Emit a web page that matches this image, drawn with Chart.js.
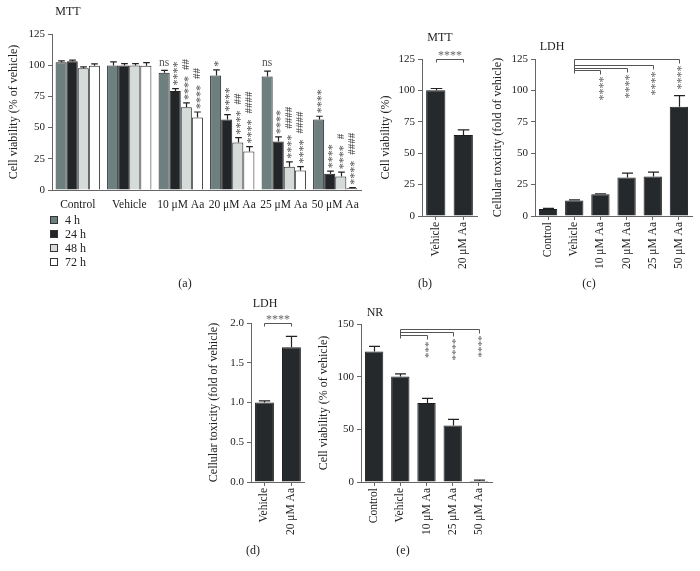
<!DOCTYPE html>
<html>
<head>
<meta charset="utf-8">
<script src="https://cdn.jsdelivr.net/npm/chart.js@4.4.1/dist/chart.umd.min.js"></script>
<style>
  html, body { margin: 0; padding: 0; background: #fff; width: 700px; height: 571px; overflow: hidden; position: relative;
    font-family: 'Liberation Serif', 'DejaVu Serif', serif; color: #222; }
  canvas { position: absolute; }
  .t { position: absolute; font-size: 12px; transform: translate(-50%, -50%); white-space: nowrap; }
  .leg { position: absolute; left: 50px; top: 213px; font-size: 12px; }
  .leg div { display: flex; align-items: center; height: 14px; }
  .leg span { display: inline-block; width: 6px; height: 6px; border: 1px solid #333; margin-right: 7px; }
</style>
</head>
<body>
<canvas id="cA" width="370" height="212" style="left:0;top:0"></canvas>
<canvas id="cB" width="108" height="285" style="left:372px;top:0"></canvas>
<canvas id="cC" width="208" height="285" style="left:487px;top:0"></canvas>
<canvas id="cD" width="108" height="280" style="left:200px;top:290px"></canvas>
<canvas id="cE" width="183" height="280" style="left:312px;top:290px"></canvas>

<div class="t" style="left:68px;top:11px">MTT</div>
<div class="t" style="left:440px;top:37px">MTT</div>
<div class="t" style="left:552px;top:46px">LDH</div>
<div class="t" style="left:265px;top:303px">LDH</div>
<div class="t" style="left:375px;top:312px">NR</div>

<div class="t" style="left:185px;top:283px">(a)</div>
<div class="t" style="left:425px;top:283px">(b)</div>
<div class="t" style="left:589px;top:283px">(c)</div>
<div class="t" style="left:253px;top:550px">(d)</div>
<div class="t" style="left:403px;top:550px">(e)</div>

<div class="leg" id="legA"></div>

<script>
// ---- panel (a) MTT time course ----
const groupLabels = ['Control', 'Vehicle', '10 μM Aa', '20 μM Aa', '25 μM Aa', '50 μM Aa'];
const timeLabels = ['4 h', '24 h', '48 h', '72 h'];
const timeColors = ['#6e7f7f', '#222628', '#d5dbd9', '#ffffff'];
const mtt4h = [102.4, 99.7, 93.9, 91.8, 91, 56.4];
const mtt24h = [103.2, 99.8, 79.3, 56.4, 38.8, 13];
const mtt48h = [97.6, 99.8, 66.3, 38, 18.6, 10.8];
const mtt72h = [99.6, 99.6, 58, 30.8, 15.6, 1.4];
const err4h = [1, 3, 2, 4.5, 4.2, 2.7];
const err24h = [0.8, 1.5, 2, 4, 3.7, 2.1];
const err48h = [1, 1.5, 3.5, 4, 4, 3.5];
const err72h = [1.5, 2.5, 4.5, 4, 3.2, 0.5];
const stars4h = ['', '', 'ns', '*', 'ns', '****'];
const stars24h = ['', '', '****', '****', '****', '****'];
const stars48h = ['', '', '****', '****', '****', '****'];
const stars72h = ['', '', '****', '****', '****', '****'];
const hash48h = ['', '', '##', '##', '####', '#'];
const hash72h = ['', '', '##', '####', '####', '####'];

// ---- panel (b) MTT 20 µM ----
const bLabels = ['Vehicle', '20 μM Aa'];
const bValues = [100.2, 64.5];
const bErrors = [1.3, 4];

// ---- panel (c) LDH dose ----
const cLabels = ['Control', 'Vehicle', '10 μM Aa', '20 μM Aa', '25 μM Aa', '50 μM Aa'];
const cValues = [5.6, 12.3, 17.3, 30.6, 31.4, 87];
const cErrors = [0.5, 0.6, 0.4, 3.5, 3.5, 8.8];
const cSigTargets = [2, 3, 4, 5];
const cSigLevels = [116.2, 118.1, 120.2, 124.8];
const cSigText = ['****', '****', '****', '****'];

// ---- panel (d) LDH 20 µM ----
const dLabels = ['Vehicle', '20 μM Aa'];
const dValues = [1.0, 1.695];
const dErrors = [0.02, 0.136];

// ---- panel (e) NR ----
const eLabels = ['Control', 'Vehicle', '10 μM Aa', '25 μM Aa', '50 μM Aa'];
const eValues = [123.9, 100.1, 75, 53.7, 1];
const eErrors = [4.8, 2.5, 4.4, 5.7, 0.8];
const eSigTargets = [2, 3, 4];
const eSigLevels = [139.6, 142.2, 145];
const eSigText = ['***', '****', '****'];

const INK = '#222';
const AX = '#666';
const SERIF = "'Liberation Serif', 'DejaVu Serif', serif";
Chart.defaults.font.family = SERIF;
Chart.defaults.color = INK;
Chart.defaults.animation = false;

document.getElementById('legA').innerHTML = timeLabels.map((t, i) =>
  `<div><span style="background:${timeColors[i]}"></span>${t}</div>`).join('');

function yAxis(w, max, step, title, pad, fmt) {
  return {
    min: 0, max,
    ticks: { stepSize: step, padding: 3, font: { size: 11 }, callback: fmt || (v => v) },
    grid: { drawOnChartArea: false, drawTicks: true, tickLength: 4, color: AX },
    border: { color: AX },
    title: { display: true, text: title, font: { size: 12 }, padding: { top: pad, bottom: 0 } },
    afterFit: s => { s.width = w; },
  };
}
function xAxis(h, rot, ticksOn) {
  return {
    offset: true,
    ticks: { font: { size: 11.5 }, minRotation: rot, maxRotation: rot, autoSkip: false, padding: ticksOn ? 2 : 4 },
    grid: { display: ticksOn, offset: false, drawOnChartArea: false, drawTicks: true, tickLength: 4, color: AX },
    border: { color: AX },
    afterFit: s => { s.height = h; },
  };
}

// error bars: upward only, with a cap
const errBars = {
  id: 'errBars',
  afterDatasetsDraw(chart) {
    const ctx = chart.ctx, y = chart.scales.y;
    chart.data.datasets.forEach((ds, di) => {
      chart.getDatasetMeta(di).data.forEach((bar, i) => {
        const top = y.getPixelForValue(ds.data[i] + ds.errors[i]);
        const cap = bar.width * 0.3;
        const x = Math.round(bar.x) + 0.5;
        ctx.save();
        ctx.strokeStyle = INK; ctx.lineWidth = 1.2;
        ctx.beginPath();
        ctx.moveTo(x, bar.y); ctx.lineTo(x, top);
        ctx.moveTo(x - cap, top); ctx.lineTo(x + cap, top);
        ctx.stroke();
        ctx.restore();
      });
    });
  },
};

// (a) stars / hashes above each bar
const markA = {
  id: 'markA',
  afterDatasetsDraw(chart) {
    const ctx = chart.ctx, y = chart.scales.y;
    chart.data.datasets.forEach((ds, di) => {
      chart.getDatasetMeta(di).data.forEach((bar, i) => {
        const st = ds.stars[i], hs = ds.hashes ? ds.hashes[i] : '';
        if (!st && !hs) return;
        const top = y.getPixelForValue(ds.data[i] + ds.errors[i]) - 3;
        ctx.save();
        ctx.fillStyle = '#555';
        if (st === 'ns') {
          ctx.font = '11.5px ' + SERIF;
          ctx.textAlign = 'center'; ctx.textBaseline = 'bottom';
          ctx.fillText('ns', bar.x, top + 1);
        } else {
          ctx.font = '12px ' + SERIF;
          ctx.translate(bar.x, top);
          ctx.rotate(-Math.PI / 2);
          ctx.textAlign = 'left'; ctx.textBaseline = 'middle';
          ctx.fillText(st, 0, 3);
          if (hs) {
            ctx.fillStyle = '#333';
            ctx.font = '11px ' + SERIF;
            ctx.fillText(hs, ctx.measureText(st).width + 8, 0);
          }
        }
        ctx.restore();
      });
    });
  },
};

// vehicle-vs-dose brackets (c, e)
function fanBracket(ref, targets, levels, texts, fs) {
  return {
    id: 'fan',
    afterDatasetsDraw(chart) {
      const ctx = chart.ctx, x = chart.scales.x, y = chart.scales.y;
      const x0 = Math.round(x.getPixelForValue(ref)) + 0.5;
      const ys = levels.map(v => Math.round(y.getPixelForValue(v)) + 0.5);
      ctx.save();
      ctx.strokeStyle = '#555'; ctx.lineWidth = 1;
      ctx.beginPath();
      ctx.moveTo(x0, Math.min(...ys)); ctx.lineTo(x0, Math.max(...ys) + 3);
      targets.forEach((t, k) => {
        const xt = Math.round(x.getPixelForValue(t)) + 0.5;
        ctx.moveTo(x0, ys[k]); ctx.lineTo(xt, ys[k]); ctx.lineTo(xt, ys[k] + 4);
      });
      ctx.stroke();
      ctx.fillStyle = '#666';
      ctx.font = fs + 'px ' + SERIF;
      targets.forEach((t, k) => {
        const xt = x.getPixelForValue(t);
        ctx.save();
        ctx.translate(xt, ys[k] + 6);
        ctx.rotate(-Math.PI / 2);
        ctx.textAlign = 'right'; ctx.textBaseline = 'middle';
        ctx.fillText(texts[k], 0, 3);
        ctx.restore();
      });
      ctx.restore();
    },
  };
}

// two-bar bracket (b, d)
function pairBracket(level, text) {
  return {
    id: 'pair',
    afterDatasetsDraw(chart) {
      const ctx = chart.ctx, x = chart.scales.x, y = chart.scales.y;
      const x1 = Math.round(x.getPixelForValue(0)) + 0.5, x2 = Math.round(x.getPixelForValue(1)) + 0.5;
      const yy = Math.round(y.getPixelForValue(level)) + 0.5;
      ctx.save();
      ctx.strokeStyle = '#555'; ctx.lineWidth = 1;
      ctx.beginPath();
      ctx.moveTo(x1, yy + 3); ctx.lineTo(x1, yy); ctx.lineTo(x2, yy); ctx.lineTo(x2, yy + 3);
      ctx.stroke();
      ctx.fillStyle = '#666';
      ctx.font = '12px ' + SERIF;
      ctx.textAlign = 'center'; ctx.textBaseline = 'bottom';
      ctx.fillText(text, (x1 + x2) / 2, yy + 2);
      ctx.restore();
    },
  };
}

const base = {
  responsive: false,
  plugins: { legend: { display: false }, tooltip: { enabled: false } },
};

// (a)
const seriesA = [
  [mtt4h, err4h, stars4h, null],
  [mtt24h, err24h, stars24h, null],
  [mtt48h, err48h, stars48h, hash48h],
  [mtt72h, err72h, stars72h, hash72h],
];
new Chart(document.getElementById('cA'), {
  type: 'bar',
  data: {
    labels: groupLabels,
    datasets: seriesA.map((s, i) => ({
      label: timeLabels[i], data: s[0], errors: s[1], stars: s[2], hashes: s[3],
      backgroundColor: timeColors[i], borderColor: INK, borderWidth: 1,
      barPercentage: 1, categoryPercentage: 0.86,
    })),
  },
  options: {
    ...base,
    layout: { padding: { top: 34, right: 9, left: 0, bottom: 0 } },
    scales: { x: xAxis(22, 0, false), y: yAxis(52, 125, 25, 'Cell viability (% of vehicle)', 7) },
  },
  plugins: [errBars, markA],
});

function single(id, labels, values, errors, pad, yCfg, extra) {
  return new Chart(document.getElementById(id), {
    type: 'bar',
    data: { labels, datasets: [{ data: values, errors, backgroundColor: '#25292b', borderColor: '#1c1f21', borderWidth: 1,
      barPercentage: 0.7, categoryPercentage: 1 }] },
    options: {
      ...base,
      layout: { padding: { top: pad.top, right: 3, left: 0, bottom: 0 } },
      scales: { x: xAxis(pad.xh, 90, true), y: yCfg },
    },
    plugins: [errBars, extra],
  });
}

single('cB', bLabels, bValues, bErrors, { top: 59, xh: 69 },
  yAxis(50, 125, 25, 'Cell viability (%)', 7), pairBracket(125, '****'));
single('cC', cLabels, cValues, cErrors, { top: 59, xh: 69 },
  yAxis(48, 125, 25, 'Cellular toxicity (fold of vehicle)', 4), fanBracket(1, cSigTargets, cSigLevels, cSigText, 12));
single('cD', dLabels, dValues, dErrors, { top: 33, xh: 88 },
  yAxis(51, 2, 0.5, 'Cellular toxicity (fold of vehicle)', 7, v => v.toFixed(1)), pairBracket(2, '****'));
single('cE', eLabels, eValues, eErrors, { top: 34, xh: 88 },
  yAxis(49, 150, 50, 'Cell viability (% of vehicle)', 5), fanBracket(1, eSigTargets, eSigLevels, eSigText, 11));
</script>
</body>
</html>
